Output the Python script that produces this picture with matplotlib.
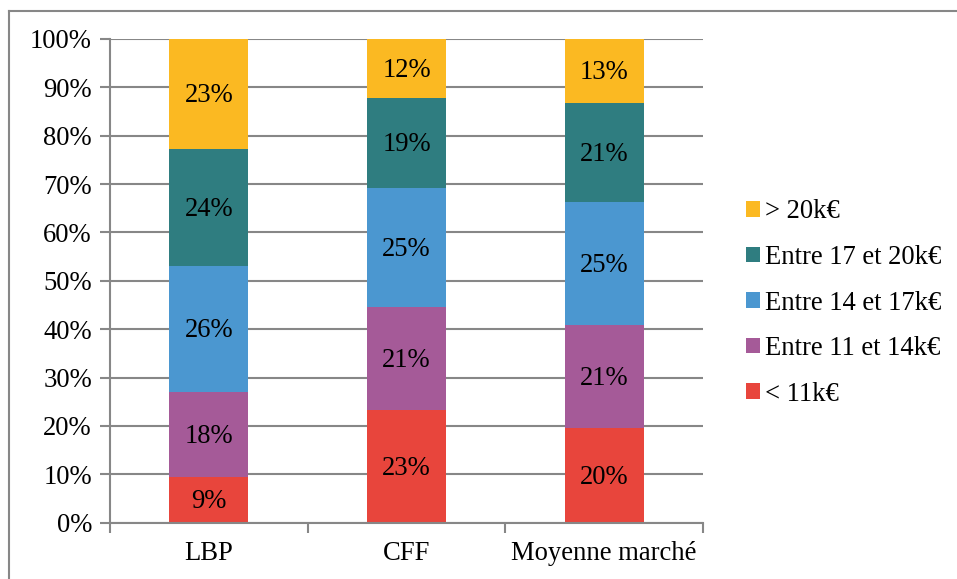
from matplotlib import pyplot as plt
from matplotlib.lines import Line2D

import numpy as np

plt.rcParams['font.family'] = ['Liberation Serif', 'DejaVu Serif']

categories = ['LBP', 'CFF', 'Moyenne marché']
series_names = ['< 11k€', 'Entre 11 et 14k€', 'Entre 14 et 17k€',
                'Entre 17 et 20k€', '> 20k€']
below_11 = [9.4, 23.4, 19.6]
from_11_to_14 = [17.7, 21.1, 21.2]
from_14_to_17 = [25.9, 24.7, 25.4]
from_17_to_20 = [24.3, 18.6, 20.6]
above_20 = [22.7, 12.2, 13.2]
series_values = [below_11, from_11_to_14, from_14_to_17, from_17_to_20,
                 above_20]
colors = ['#E8453C', '#A55A98', '#4B97D0', '#2F7D80', '#FBB922']

W, H = 957, 579
fig = plt.figure(figsize=(W / 100, H / 100), dpi=100)
ax = fig.add_axes([110 / W, 1 - 522.7 / H, 593 / W, (522.7 - 39) / H])

grey = '#878787'
fs = 19.2

index = np.arange(len(categories))
bottom = np.zeros(len(categories))
for name, vals, col in zip(series_names, series_values, colors):
    vals = np.array(vals)
    ax.bar(index, vals, 0.4, bottom=bottom, color=col, label=name, zorder=3)
    for x, b, v in zip(index, bottom, vals):
        ax.text(x, b + v / 2 - 0.4, f'{round(v)}%', ha='center',
                va='center', fontsize=fs, color='black', zorder=4)
    bottom += vals

ax.set_xlim(-0.5, len(categories) - 0.5)
ax.set_ylim(0, 100)
ax.set_yticks(np.arange(0, 101, 10))
ax.set_yticklabels([f'{t}%' for t in range(0, 101, 10)], fontsize=fs)
ax.yaxis.grid(True, color=grey, linewidth=1.5, zorder=0)

ax.set_xticks(index)
ax.set_xticklabels(categories, fontsize=fs)
ax.tick_params(axis='x', length=0, pad=13)
ax.set_xticks(np.arange(-0.5, len(categories)), minor=True)
ax.tick_params(axis='x', which='minor', length=7, width=1.5, color=grey)
ax.tick_params(axis='y', length=7, width=1.5, color=grey, pad=6)

for s in ['top', 'right']:
    ax.spines[s].set_visible(False)
for s in ['left', 'bottom']:
    ax.spines[s].set_color(grey)
    ax.spines[s].set_linewidth(1.5)
    ax.spines[s].set_zorder(5)

handles, labels = ax.get_legend_handles_labels()
ax.legend(handles[::-1], labels[::-1], loc='center left',
          bbox_to_anchor=(735 / W, 1 - 303 / H),
          bbox_transform=fig.transFigure, frameon=False, fontsize=fs,
          handlelength=0.52, handleheight=0.52, handletextpad=0.2,
          labelspacing=0.77, borderaxespad=0)

# chart area frame
fig.add_artist(Line2D([8.5 / W, 8.5 / W], [0, 1 - 10.5 / H],
                      transform=fig.transFigure, color=grey, linewidth=1.5))
fig.add_artist(Line2D([8.5 / W, 1], [1 - 10.5 / H, 1 - 10.5 / H],
                      transform=fig.transFigure, color=grey, linewidth=1.5))

fig.savefig('out.png', dpi=100)
